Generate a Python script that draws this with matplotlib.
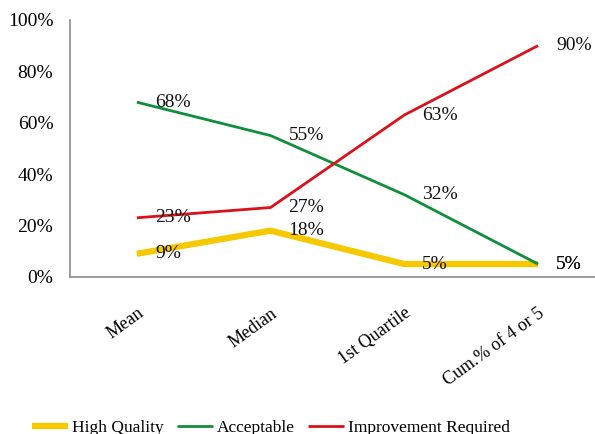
import matplotlib
matplotlib.use("Agg")

import matplotlib.pyplot as plt

categories = ["Mean", "Median", "1st Quartile", "Cum.% of 4 or 5"]
high_quality = [9, 18, 5, 5]
acceptable = [68, 55, 32, 5]
improvement = [23, 27, 63, 90]
y_ticks = [0, 20, 40, 60, 80, 100]

plt.rcParams["font.family"] = ["Liberation Serif", "DejaVu Serif"]

fig = plt.figure(figsize=(5.95, 4.34), dpi=100)
ax = fig.add_axes([0.1176, 0.362, 0.899, 0.592])

x = list(range(len(categories)))
series = [
    ("High Quality", high_quality, "#f5c800", 4.5),
    ("Acceptable", acceptable, "#0f8f3c", 2.0),
    ("Improvement Required", improvement, "#d9121b", 2.0),
]
for name, vals, color, lw in series:
    ax.plot(x, vals, color=color, lw=lw, label=name, solid_capstyle="butt")
    for xi, v in zip(x, vals):
        ax.annotate(f"{v}%", (xi, v), xytext=(13, 0), textcoords="offset points",
                    ha="left", va="center", fontsize=14, color="#111111")

ax.set_xlim(-0.5, 3.5)
ax.set_ylim(0, 100)
ax.set_yticks(y_ticks)
ax.set_yticklabels([f"{t}%" for t in y_ticks], fontsize=14)
ax.set_xticks(x)
ax.set_xticklabels(categories, fontsize=13, rotation=36, ha="right",
                   rotation_mode="anchor")
ax.tick_params(axis="both", length=0)
ax.tick_params(axis="y", pad=12)
ax.tick_params(axis="x", pad=20)
for s in ("top", "right"):
    ax.spines[s].set_visible(False)
for s in ("left", "bottom"):
    ax.spines[s].set_color("#8c8c8c")
    ax.spines[s].set_linewidth(1.2)

fig.legend(loc="center", bbox_to_anchor=(0.455, 0.014), ncol=3, frameon=False,
           fontsize=12.5, handlelength=2.1, handletextpad=0.2, columnspacing=0.75)

fig.savefig("out.png", dpi=100)
